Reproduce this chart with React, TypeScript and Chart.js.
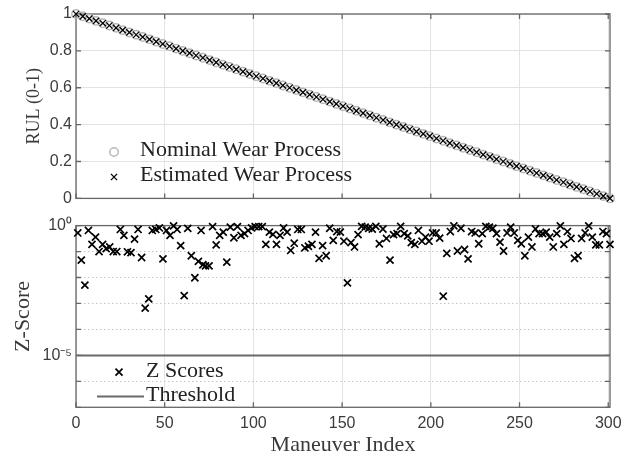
import React, { useEffect, useRef } from 'react';
import { Chart, registerables } from 'chart.js';

Chart.register(...registerables);

// ---------- data ----------
const xTicks = [0, 50, 100, 150, 200, 250, 300];
const rulTicks = [0, 0.2, 0.4, 0.6, 0.8, 1];
const rulTickLabels = ['0', '0.2', '0.4', '0.6', '0.8', '1'];
const zTicks = [1e-7, 1e-6, 1e-5, 1e-4, 1e-3, 1e-2, 1e-1, 1];
const zTickLabels = ['', '', '10\u207B\u2075', '', '', '', '', '10\u2070'];

const rulIndex = [
  0, 3.8, 7.5, 11.3, 15.1, 18.8, 22.6, 26.3, 30.1, 33.9,
  37.6, 41.4, 45.2, 48.9, 52.7, 56.4, 60.2, 64.0, 67.7, 71.5,
  75.3, 79.0, 82.8, 86.5, 90.3, 94.1, 97.8, 101.6, 105.4, 109.1,
  112.9, 116.6, 120.4, 124.2, 127.9, 131.7, 135.5, 139.2, 143.0, 146.7,
  150.5, 154.3, 158.0, 161.8, 165.6, 169.3, 173.1, 176.8, 180.6, 184.4,
  188.1, 191.9, 195.7, 199.4, 203.2, 206.9, 210.7, 214.5, 218.2, 222.0,
  225.8, 229.5, 233.3, 237.0, 240.8, 244.6, 248.3, 252.1, 255.9, 259.6,
  263.4, 267.1, 270.9, 274.7, 278.4, 282.2, 286.0, 289.7, 293.5, 297.2,
  301,
];
const rulNominal = [
  1, 0.9875, 0.975, 0.9625, 0.95, 0.9375, 0.925, 0.9125, 0.9, 0.8875,
  0.875, 0.8625, 0.85, 0.8375, 0.825, 0.8125, 0.8, 0.7875, 0.775, 0.7625,
  0.75, 0.7375, 0.725, 0.7125, 0.7, 0.6875, 0.675, 0.6625, 0.65, 0.6375,
  0.625, 0.6125, 0.6, 0.5875, 0.575, 0.5625, 0.55, 0.5375, 0.525, 0.5125,
  0.5, 0.4875, 0.475, 0.4625, 0.45, 0.4375, 0.425, 0.4125, 0.4, 0.3875,
  0.375, 0.3625, 0.35, 0.3375, 0.325, 0.3125, 0.3, 0.2875, 0.275, 0.2625,
  0.25, 0.2375, 0.225, 0.2125, 0.2, 0.1875, 0.175, 0.1625, 0.15, 0.1375,
  0.125, 0.1125, 0.1, 0.0875, 0.075, 0.0625, 0.05, 0.0375, 0.025, 0.0125,
  0,
];
const rulEstimated = [
  1, 0.9875, 0.975, 0.9625, 0.95, 0.9375, 0.925, 0.9125, 0.9, 0.8875,
  0.875, 0.8625, 0.85, 0.8375, 0.825, 0.8125, 0.8, 0.7875, 0.775, 0.7625,
  0.75, 0.7375, 0.725, 0.7125, 0.7, 0.6875, 0.675, 0.6625, 0.65, 0.6375,
  0.625, 0.6125, 0.6, 0.5875, 0.575, 0.5625, 0.55, 0.5375, 0.525, 0.5125,
  0.5, 0.4875, 0.475, 0.4625, 0.45, 0.4375, 0.425, 0.4125, 0.4, 0.3875,
  0.375, 0.3625, 0.35, 0.3375, 0.325, 0.3125, 0.3, 0.2875, 0.275, 0.2625,
  0.25, 0.2375, 0.225, 0.2125, 0.2, 0.1875, 0.175, 0.1625, 0.15, 0.1375,
  0.125, 0.1125, 0.1, 0.0875, 0.075, 0.0625, 0.05, 0.0375, 0.025, 0.0125,
  0,
];

const zIndex = [
  1, 3, 5, 7, 9, 11, 13, 15, 17, 19,
  21, 23, 25, 27, 29, 31, 33, 35, 37, 39,
  41, 43, 45, 47, 49, 51, 53, 55, 57, 59,
  61, 63, 65, 67, 69, 70.5, 71.5, 73, 75, 77,
  79, 81, 83, 85, 87, 89, 91, 93, 95, 97,
  99, 101, 103, 105, 107, 109, 111, 113, 115, 117,
  119, 121, 123, 125, 127, 129, 131, 133, 135, 137,
  139, 141, 143, 145, 147, 149, 151, 153, 155, 157,
  159, 161, 163, 165, 167, 169, 171, 173, 175, 177,
  179, 181, 183, 185, 187, 189, 191, 193, 195, 197,
  199, 201, 203, 205, 207, 209, 211, 213, 215, 217,
  219, 221, 223, 225, 227, 229, 231, 233, 235, 237,
  239, 241, 243, 245, 247, 249, 251, 253, 255, 257,
  259, 261, 263, 265, 267, 269, 271, 273, 275, 277,
  279, 281, 283, 285, 287, 289, 291, 293, 295, 297,
  299, 301,
];
const zScore = [
  0.52, 0.047, 0.0051, 0.65, 0.19, 0.36, 0.10, 0.19, 0.13, 0.15,
  0.10, 0.10, 0.71, 0.42, 0.098, 0.091, 0.30, 0.71, 0.059, 0.00066,
  0.0015, 0.65, 0.71, 0.81, 0.052, 0.65, 0.42, 0.98, 0.71, 0.17,
  0.002, 0.78, 0.069, 0.0098, 0.042, 0.65, 0.031, 0.028, 0.028, 0.91,
  0.18, 0.42, 0.56, 0.039, 0.87, 0.34, 0.91, 0.42, 0.49, 0.65,
  0.81, 0.91, 0.91, 0.91, 0.19, 0.56, 0.46, 0.19, 0.42, 0.81,
  0.56, 0.11, 0.21, 0.71, 0.71, 0.14, 0.16, 0.19, 0.56, 0.055,
  0.17, 0.069, 0.79, 0.27, 0.59, 0.56, 0.25, 0.0062, 0.22, 0.15,
  0.45, 0.93, 0.87, 0.79, 0.74, 0.93, 0.20, 0.74, 0.32, 0.047,
  0.45, 0.49, 0.93, 0.49, 0.40, 0.22, 0.19, 0.65, 0.25, 0.36,
  0.25, 0.52, 0.52, 0.33, 0.0019, 0.085, 0.59, 0.98, 0.105, 0.79,
  0.12, 0.052, 0.59, 0.52, 0.20, 0.49, 0.93, 0.87, 0.79, 0.49,
  0.23, 0.105, 0.52, 0.87, 0.52, 0.27, 0.20, 0.069, 0.36, 0.15,
  0.74, 0.49, 0.49, 0.56, 0.36, 0.15, 0.49, 0.98, 0.19, 0.59,
  0.32, 0.055, 0.069, 0.32, 0.52, 0.98, 0.36, 0.18, 0.18, 0.59,
  0.49, 0.19,
];

const thresholdIndex = [0, 301];
const thresholdValue = [1e-5, 1e-5];

// ---------- styles ----------
const AXIS = '#666666';
const GRID = '#e3e3e3';
const TICK_TEXT = '#3c3c3c';
const TITLE_TEXT = '#3a3a3a';
const SERIF = '"Liberation Serif", "Times New Roman", serif';
const SANS = '"Liberation Sans", Arial, sans-serif';

const framePlugin = {
  id: 'frame',
  beforeDatasetsDraw(chart: any) {
    const { ctx, chartArea: a, scales } = chart;
    const tl = 5;
    ctx.save();
    ctx.strokeStyle = AXIS;
    ctx.lineWidth = 1.3;
    ctx.beginPath();
    scales.x.ticks.forEach((t: any) => {
      const px = scales.x.getPixelForValue(t.value);
      ctx.moveTo(px, a.bottom);
      ctx.lineTo(px, a.bottom - tl);
      ctx.moveTo(px, a.top);
      ctx.lineTo(px, a.top + tl);
    });
    scales.y.ticks.forEach((t: any) => {
      const py = scales.y.getPixelForValue(t.value);
      ctx.moveTo(a.left, py);
      ctx.lineTo(a.left + tl, py);
      ctx.moveTo(a.right, py);
      ctx.lineTo(a.right - tl, py);
    });
    ctx.stroke();
    ctx.strokeRect(a.left, a.top, a.right - a.left, a.bottom - a.top);
    ctx.restore();
  },
};

type LegendItem = {
  kind: 'circle' | 'cross' | 'line';
  label: string;
  mx: number;
  my: number;
  tx: number;
  ty: number;
  size?: number;
  width?: number;
};

function makeLegendPlugin(items: LegendItem[]) {
  return {
    id: 'customLegend',
    afterDraw(chart: any) {
      const { ctx, chartArea: a } = chart;
      ctx.save();
      items.forEach((it) => {
        const mx = a.left + it.mx;
        const my = a.top + it.my;
        if (it.kind === 'circle') {
          ctx.strokeStyle = '#b8b8b8';
          ctx.lineWidth = 1.5;
          ctx.beginPath();
          ctx.arc(mx, my, 4.2, 0, Math.PI * 2);
          ctx.stroke();
        } else if (it.kind === 'cross') {
          const d = it.size || 3.3;
          ctx.strokeStyle = '#000';
          ctx.lineWidth = it.width || 1.4;
          ctx.beginPath();
          ctx.moveTo(mx - d, my - d);
          ctx.lineTo(mx + d, my + d);
          ctx.moveTo(mx - d, my + d);
          ctx.lineTo(mx + d, my - d);
          ctx.stroke();
        } else {
          ctx.strokeStyle = '#6a6a6a';
          ctx.lineWidth = 2;
          ctx.beginPath();
          ctx.moveTo(a.left + 21, my);
          ctx.lineTo(a.left + 68, my);
          ctx.stroke();
        }
        ctx.fillStyle = '#222';
        ctx.font = `22px ${SERIF}`;
        ctx.textAlign = 'left';
        ctx.textBaseline = 'middle';
        ctx.fillText(it.label, a.left + it.tx, a.top + it.ty);
      });
      ctx.restore();
    },
  };
}

export default function App() {
  const topRef = useRef<HTMLCanvasElement>(null);
  const botRef = useRef<HTMLCanvasElement>(null);

  useEffect(() => {
    const tickFont = { family: SANS, size: 16 };

    const top = new Chart(topRef.current as HTMLCanvasElement, {
      type: 'scatter',
      data: {
        datasets: [
          {
            label: 'Estimated Wear Process',
            data: rulIndex.map((x, i) => ({ x, y: rulEstimated[i] })),
            pointStyle: 'crossRot',
            pointRadius: 4.4,
            pointBorderWidth: 1.3,
            borderColor: '#000',
            backgroundColor: '#000',
            clip: false,
            order: 0,
          },
          {
            label: 'Nominal Wear Process',
            data: rulIndex.map((x, i) => ({ x, y: rulNominal[i] })),
            pointStyle: 'circle',
            pointRadius: 4.2,
            pointBorderWidth: 1.5,
            borderColor: '#b8b8b8',
            backgroundColor: 'rgba(255,255,255,0)',
            clip: false,
            order: 1,
          },
        ],
      } as any,
      options: {
        responsive: false,
        animation: false,
        events: [],
        layout: { padding: { left: 0, right: 28, top: 14, bottom: 0 } },
        plugins: { legend: { display: false }, tooltip: { enabled: false } },
        scales: {
          x: {
            type: 'linear',
            min: 0,
            max: 301,
            afterBuildTicks: (s: any) => {
              s.ticks = xTicks.map((v) => ({ value: v }));
            },
            afterFit: (s: any) => {
              s.height = 11;
            },
            ticks: { display: false },
            grid: { color: GRID, lineWidth: 1, drawTicks: false },
            border: { display: false },
          },
          y: {
            type: 'linear',
            min: 0,
            max: 1,
            afterBuildTicks: (s: any) => {
              s.ticks = rulTicks.map((v) => ({ value: v }));
            },
            afterFit: (s: any) => {
              s.width = 76;
            },
            ticks: {
              font: tickFont,
              color: TICK_TEXT,
              padding: 4,
              callback: (v: any, i: number) => rulTickLabels[i],
            },
            grid: { color: GRID, lineWidth: 1, drawTicks: false },
            border: { display: false },
            title: {
              display: true,
              text: 'RUL (0-1)',
              font: { family: SERIF, size: 18 },
              color: TITLE_TEXT,
              padding: { top: 23, bottom: 0 },
            },
          },
        },
      } as any,
      plugins: [
        framePlugin,
        makeLegendPlugin([
          { kind: 'circle', label: 'Nominal Wear Process', mx: 38, my: 138, tx: 64, ty: 136 },
          { kind: 'cross', label: 'Estimated Wear Process', mx: 38, my: 163, tx: 64, ty: 161, size: 3.1, width: 1.3 },
        ]),
      ],
    });

    const bot = new Chart(botRef.current as HTMLCanvasElement, {
      type: 'scatter',
      data: {
        datasets: [
          {
            label: 'Z Scores',
            data: zIndex.map((x, i) => ({ x, y: zScore[i] })),
            pointStyle: 'crossRot',
            pointRadius: 5,
            pointBorderWidth: 1.7,
            borderColor: '#000',
            backgroundColor: '#000',
            clip: false,
            order: 0,
          },
          {
            label: 'Threshold',
            data: thresholdIndex.map((x, i) => ({ x, y: thresholdValue[i] })),
            showLine: true,
            pointRadius: 0,
            borderColor: '#6a6a6a',
            borderWidth: 2,
            order: 1,
          },
        ],
      } as any,
      options: {
        responsive: false,
        animation: false,
        events: [],
        layout: { padding: { left: 0, right: 28, top: 9.7, bottom: 0 } },
        plugins: { legend: { display: false }, tooltip: { enabled: false } },
        scales: {
          x: {
            type: 'linear',
            min: 0,
            max: 301,
            afterBuildTicks: (s: any) => {
              s.ticks = xTicks.map((v) => ({ value: v }));
            },
            afterFit: (s: any) => {
              s.height = 50.7;
            },
            ticks: {
              font: tickFont,
              color: TICK_TEXT,
              padding: 7,
              maxRotation: 0,
              callback: (v: any, i: number) => String(xTicks[i]),
            },
            grid: { color: GRID, lineWidth: 1, drawTicks: false },
            border: { display: false },
            title: {
              display: true,
              text: 'Maneuver Index',
              font: { family: SERIF, size: 22 },
              color: TITLE_TEXT,
              padding: { top: 0, bottom: 0 },
            },
          },
          y: {
            type: 'logarithmic',
            min: 1e-7,
            max: 1,
            afterBuildTicks: (s: any) => {
              s.ticks = zTicks.map((v) => ({ value: v }));
            },
            afterFit: (s: any) => {
              s.width = 76;
            },
            ticks: {
              font: tickFont,
              color: TICK_TEXT,
              padding: 4,
              autoSkip: false,
              callback: (v: any, i: number) => zTickLabels[i],
            },
            grid: {
              color: (c: any) =>
                c.tick && (c.tick.value === 1e-5 || c.tick.value === 1 || c.tick.value === 1e-7)
                  ? 'rgba(0,0,0,0)'
                  : '#c4c4c4',
              lineWidth: 1,
              drawTicks: false,
            },
            border: { display: false, dash: [1.5, 2.5] },
            title: {
              display: true,
              text: 'Z-Score',
              font: { family: SERIF, size: 22 },
              color: TITLE_TEXT,
              padding: { top: 10, bottom: 0 },
            },
          },
        },
      } as any,
      plugins: [
        framePlugin,
        makeLegendPlugin([
          { kind: 'cross', label: 'Z Scores', mx: 43, my: 146.6, tx: 70, ty: 145.8, size: 3.5, width: 1.7 },
          { kind: 'line', label: 'Threshold', mx: 44, my: 171, tx: 70, ty: 170 },
        ]),
      ],
    });

    return () => {
      top.destroy();
      bot.destroy();
    };
  }, []);

  return (
    <div style={{ position: 'absolute', left: 0, top: 0, width: 638, height: 458, background: '#fff' }}>
      <canvas
        ref={topRef}
        width={638}
        height={212}
        style={{ position: 'absolute', left: 0, top: 0, width: 638, height: 212 }}
      />
      <canvas
        ref={botRef}
        width={638}
        height={246}
        style={{ position: 'absolute', left: 0, top: 212, width: 638, height: 246 }}
      />
    </div>
  );
}
